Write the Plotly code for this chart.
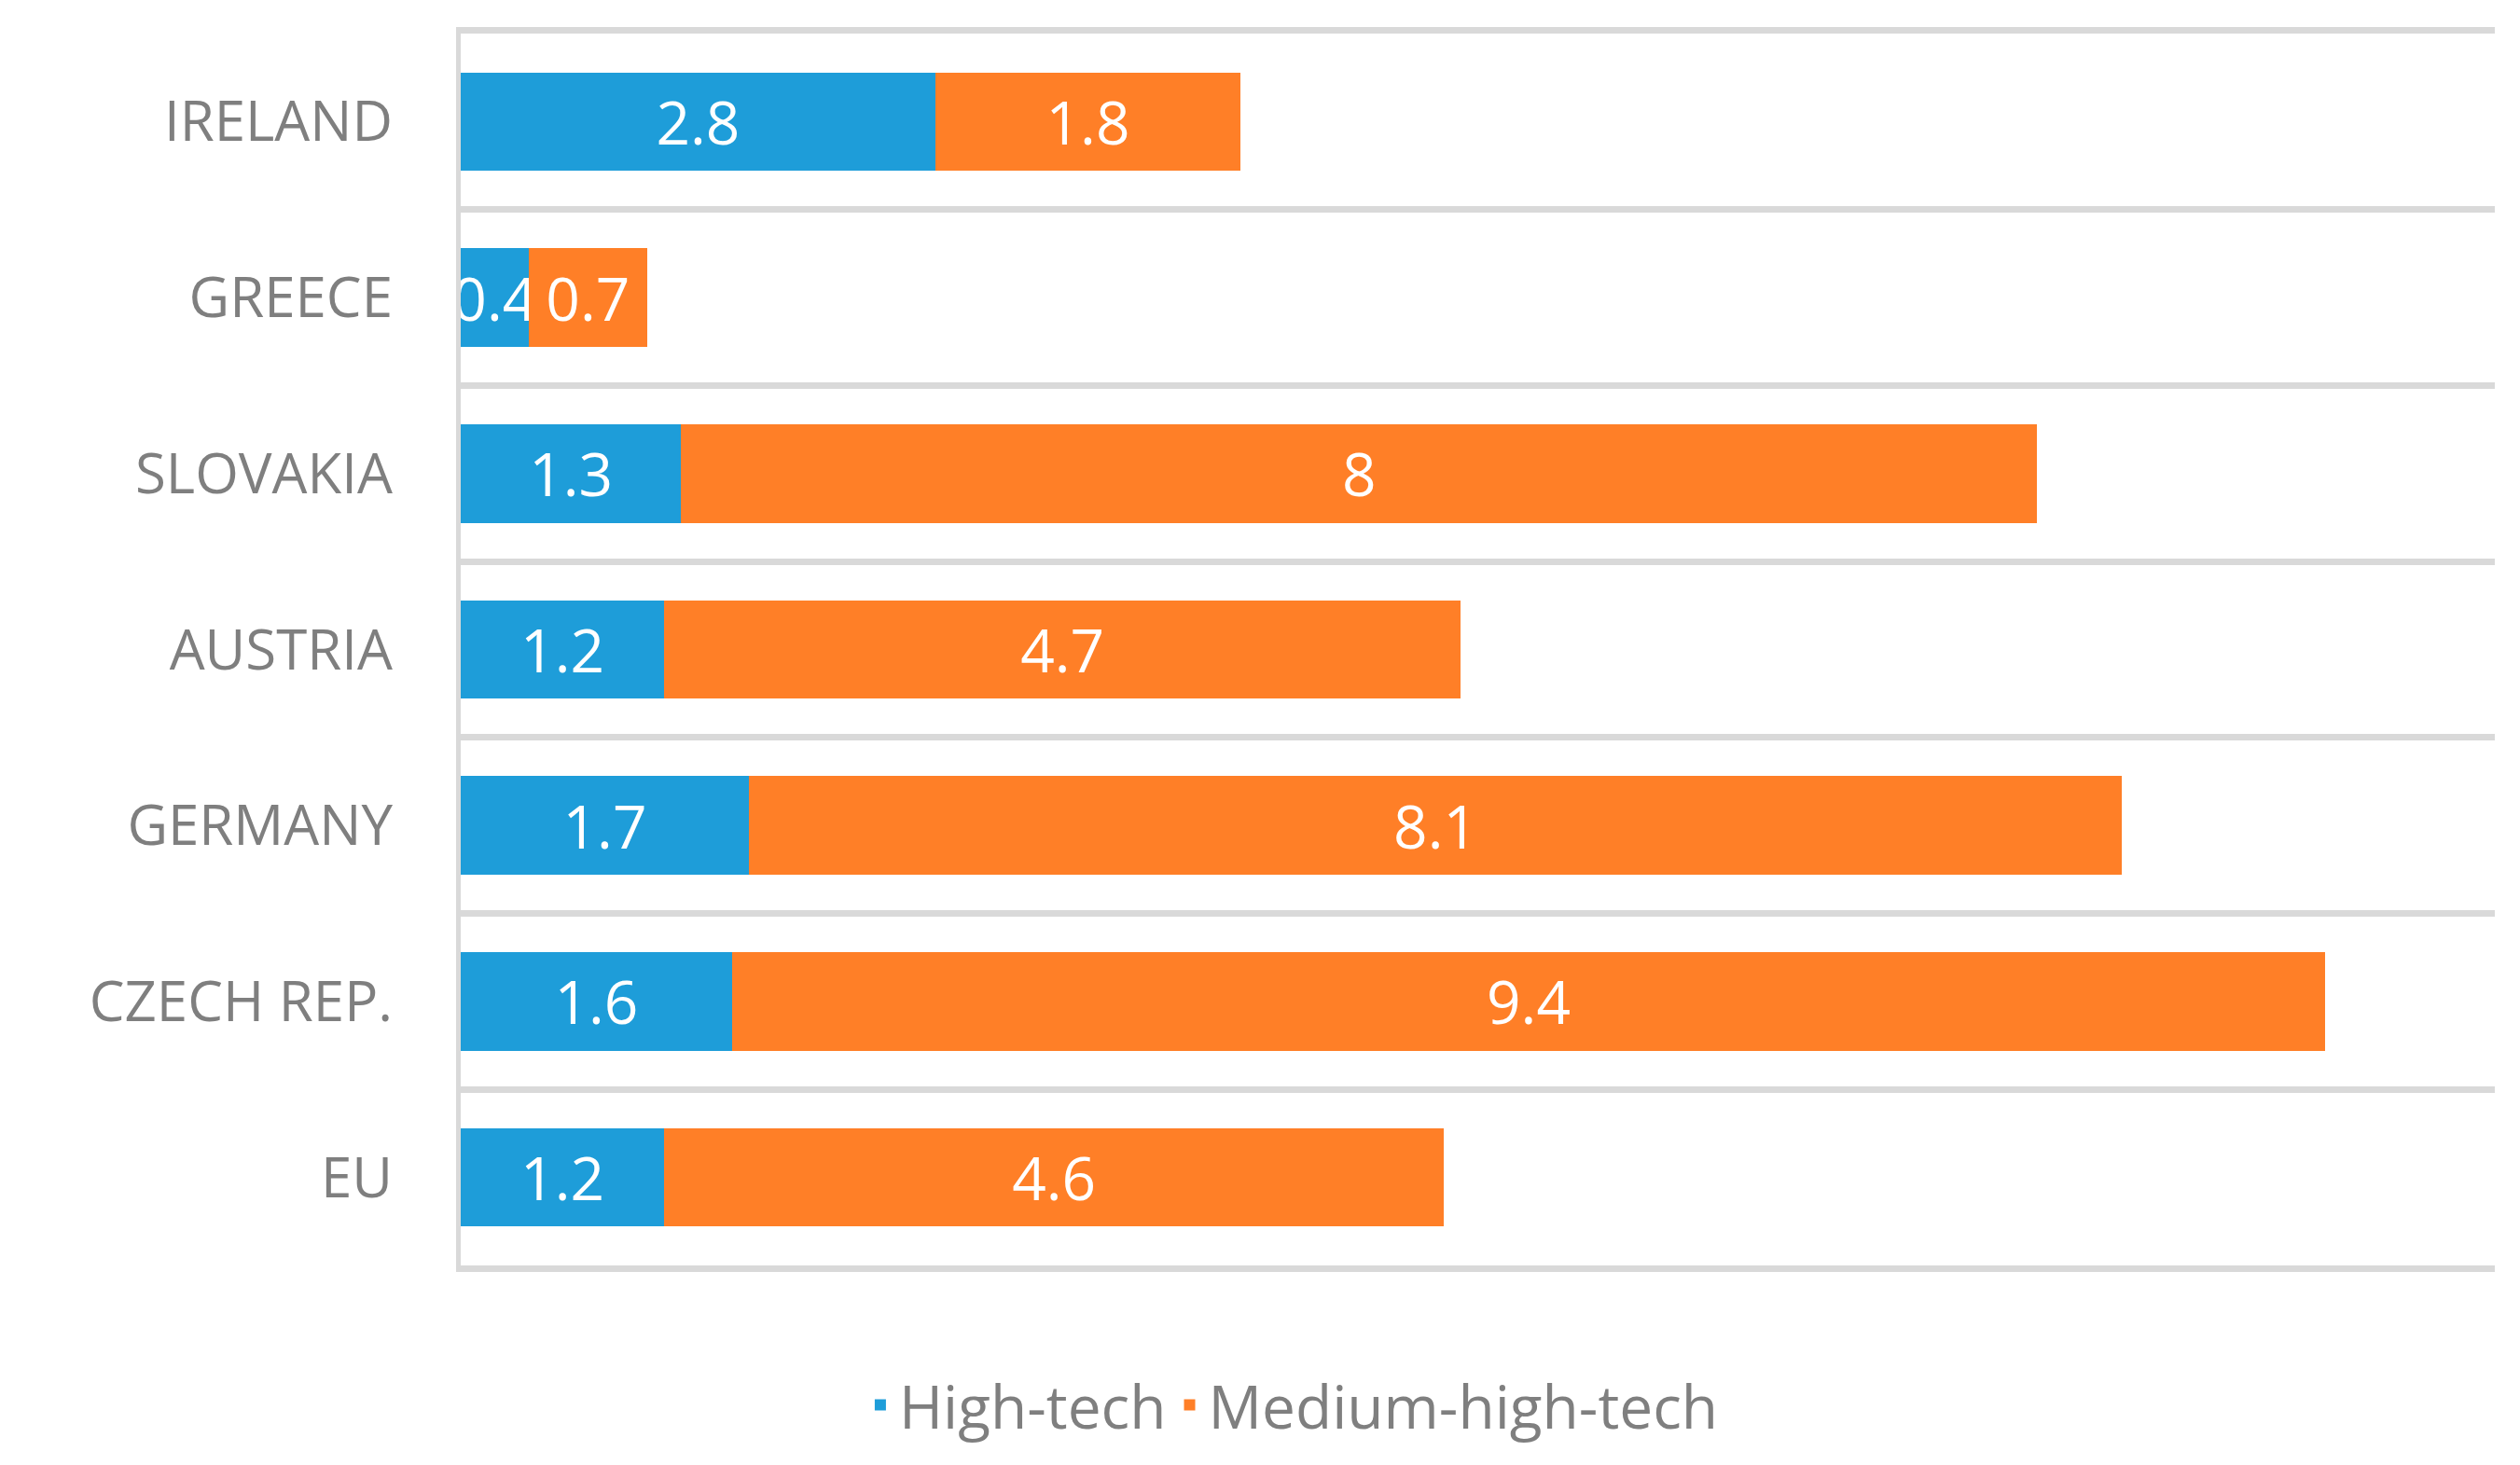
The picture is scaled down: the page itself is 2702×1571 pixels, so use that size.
import plotly.graph_objects as go

countries = ["IRELAND", "GREECE", "SLOVAKIA", "AUSTRIA", "GERMANY", "CZECH REP.", "EU"]
high_tech = [2.8, 0.4, 1.3, 1.2, 1.7, 1.6, 1.2]
medium_high_tech = [1.8, 0.7, 8, 4.7, 8.1, 9.4, 4.6]

BLUE = "#1E9DD9"
ORANGE = "#FF7F27"
GRID = "#D9D9D9"
GRAYTXT = "#7F7F7F"
FONT = "Open Sans"

fig = go.Figure()
fig.add_trace(go.Bar(
    y=countries, x=high_tech, orientation="h", name="High-tech",
    marker=dict(color=BLUE, line=dict(width=0)),
    text=high_tech, texttemplate="%{x}", textposition="inside",
    insidetextanchor="middle", textangle=0,
    textfont=dict(color="white", size=64, family=FONT),
))
fig.add_trace(go.Bar(
    y=countries, x=medium_high_tech, orientation="h", name="Medium-high-tech",
    marker=dict(color=ORANGE, line=dict(width=0)),
    text=medium_high_tech, texttemplate="%{x}", textposition="inside",
    insidetextanchor="middle", textangle=0,
    textfont=dict(color="white", size=64, family=FONT),
))

fig.update_layout(
    width=2686, height=1555,
    margin=dict(l=486, r=19, t=28, b=206),
    barmode="stack", bargap=0.44,
    paper_bgcolor="white", plot_bgcolor="white",
    font=dict(family=FONT, color=GRAYTXT),
    uniformtext=dict(minsize=64, mode="show"),
    showlegend=True,
    legend=dict(
        orientation="h", xref="container", yref="container",
        x=0.513, xanchor="center", y=0.036, yanchor="middle",
        font=dict(size=64, color=GRAYTXT, family=FONT),
        traceorder="normal",
    ),
    xaxis=dict(
        range=[0, 12], showticklabels=False, showgrid=False, zeroline=False,
        showline=True, linecolor=GRID, linewidth=7, mirror=True, ticks="",
    ),
    yaxis=dict(
        categoryorder="array", categoryarray=countries[::-1],
        tickson="boundaries", showgrid=True, gridcolor=GRID, gridwidth=7,
        showline=True, linecolor=GRID, linewidth=5,
        ticks="", ticklabelstandoff=56,
        tickfont=dict(size=60, color=GRAYTXT, family=FONT),
    ),
)

fig.write_html("out.html")
